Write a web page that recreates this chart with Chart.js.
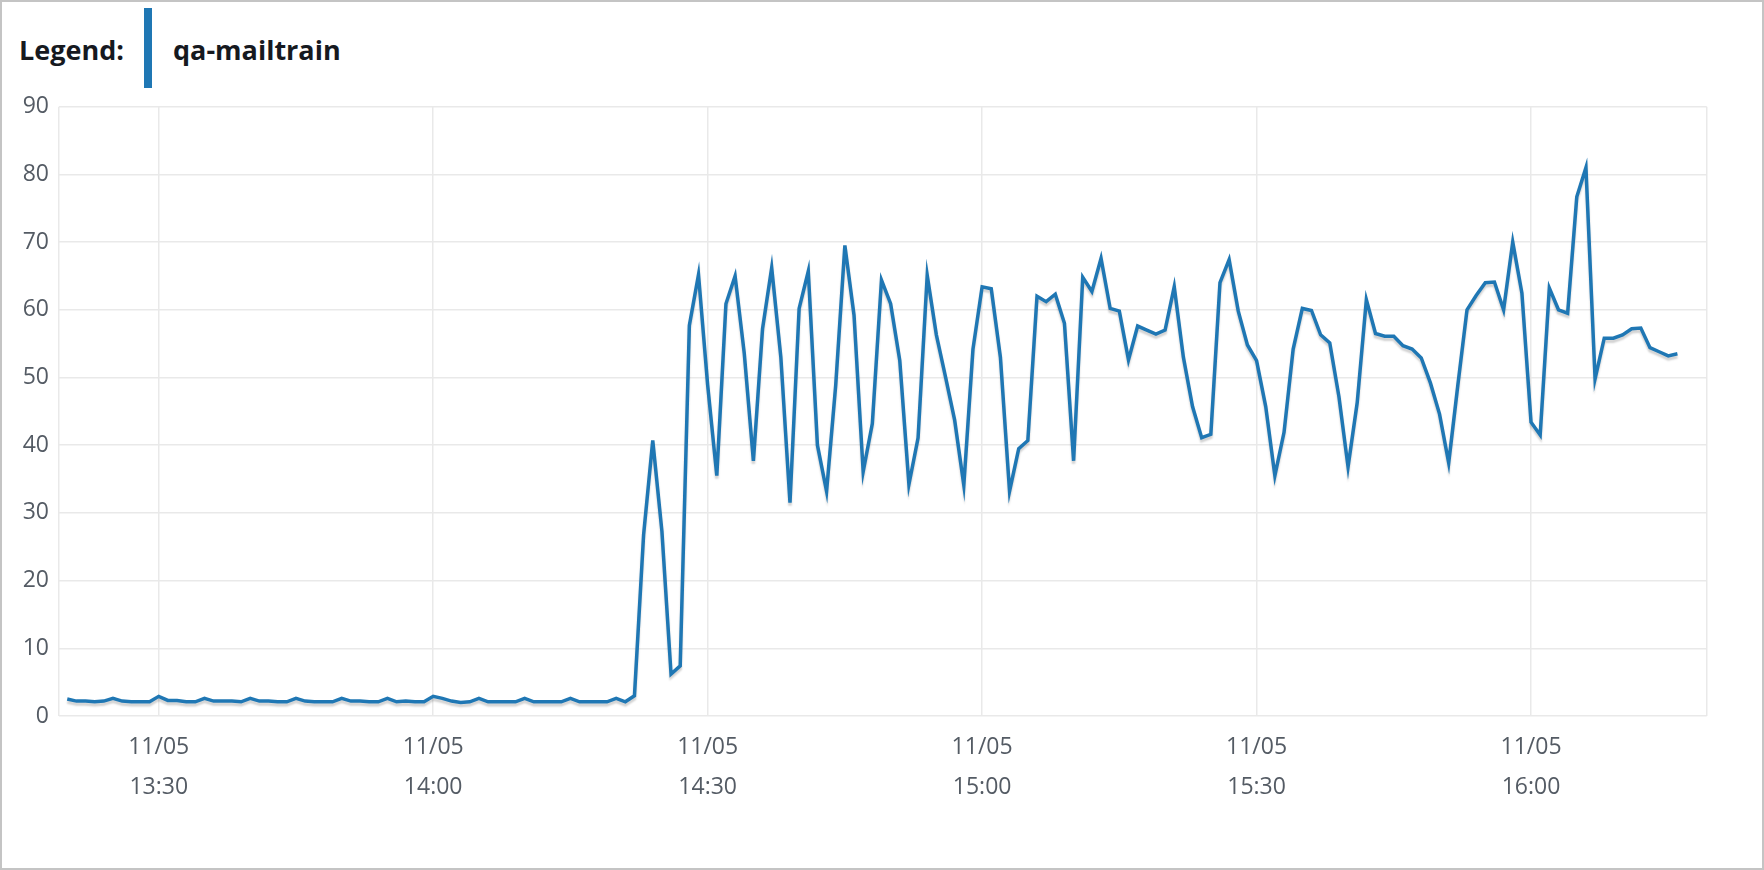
<!DOCTYPE html>
<html>
<head>
<meta charset="utf-8">
<script src="https://cdn.jsdelivr.net/npm/chart.js@4.4.1/dist/chart.umd.min.js"></script>
<style>
  html, body { margin: 0; padding: 0; background: #fff; }
  .frame {
    position: relative;
    width: 1764px;
    height: 870px;
    box-sizing: border-box;
    border: 2px solid #c4c4c4;
    overflow: hidden;
    font-family: "Open Sans", "Noto Sans", sans-serif;
  }
  .legend-title, .legend-name {
    position: absolute;
    top: 34px;
    font-size: 27px;
    line-height: 27px;
    font-weight: 700;
    color: #16191f;
  }
  .legend-title { left: 17px; }
  .legend-name { left: 171px; }
  .legend-swatch {
    position: absolute;
    left: 142px;
    top: 6px;
    width: 8px;
    height: 80px;
    background: #1f77b4;
  }
  #chart { position: absolute; left: -2px; top: -2px; }
</style>
</head>
<body>
<div class="frame">
  <span class="legend-title">Legend:</span>
  <div class="legend-swatch"></div>
  <span class="legend-name">qa-mailtrain</span>
  <canvas id="chart" width="1764" height="870"></canvas>
</div>
<script>
// Series: one sample per minute, starting 13:20
const seriesName = "qa-mailtrain";
const startTime = "13:20";
const values = [
  // 13:20 - 13:59
  2.5, 2.2, 2.2, 2.1, 2.2, 2.6, 2.2, 2.1, 2.1, 2.1,
  2.9, 2.3, 2.3, 2.1, 2.1, 2.6, 2.2, 2.2, 2.2, 2.1,
  2.6, 2.2, 2.2, 2.1, 2.1, 2.6, 2.2, 2.1, 2.1, 2.1,
  2.6, 2.2, 2.2, 2.1, 2.1, 2.6, 2.1, 2.2, 2.1, 2.1,
  // 14:00 - 14:29
  2.9, 2.6, 2.2, 2.0, 2.1, 2.6, 2.1, 2.1, 2.1, 2.1,
  2.6, 2.1, 2.1, 2.1, 2.1, 2.6, 2.1, 2.1, 2.1, 2.1,
  2.6, 2.1, 3.0, 26.8, 40.7, 27.3, 6.2, 7.4, 57.7, 65.2,
  // 14:30 - 14:59
  48.9, 35.5, 60.9, 65.0, 53.6, 37.7, 57.2, 66.2, 53.0, 31.5,
  60.2, 65.7, 40.0, 33.2, 48.9, 69.5, 59.2, 36.1, 43.2, 64.4,
  60.9, 52.5, 34.2, 41.1, 65.1, 56.3, 50.1, 43.7, 34.1, 54.2,
  // 15:00 - 15:29
  63.4, 63.1, 53.0, 33.2, 39.5, 40.7, 62.0, 61.2, 62.3, 58.0,
  37.7, 64.8, 62.7, 67.6, 60.2, 59.8, 52.6, 57.6, 57.0, 56.4,
  57.0, 63.4, 53.0, 45.7, 41.1, 41.6, 64.0, 67.4, 59.8, 54.8,
  // 15:30 - 15:59
  52.5, 45.7, 35.5, 41.9, 54.2, 60.2, 59.9, 56.3, 55.1, 47.2,
  36.8, 46.3, 61.5, 56.5, 56.1, 56.1, 54.7, 54.2, 52.9, 49.2,
  44.6, 37.4, 48.9, 60.0, 62.1, 64.0, 64.1, 60.0, 70.0, 62.5,
  // 16:00 - 16:16
  43.4, 41.5, 63.2, 60.0, 59.5, 76.7, 81.0, 49.8, 55.8, 55.8,
  56.3, 57.2, 57.3, 54.4, 53.8, 53.2, 53.5
];

// Axis labels
const tickDate = "11/05";
const tickTimes = ["13:30", "14:00", "14:30", "15:00", "15:30", "16:00"];
const yTicks = [0, 10, 20, 30, 40, 50, 60, 70, 80, 90];

function toMinutes(t) {
  const [h, m] = t.split(":").map(Number);
  return h * 60 + m;
}
function toTime(min) {
  const h = Math.floor(min / 60), m = Math.round(min % 60);
  return String(h).padStart(2, "0") + ":" + String(m).padStart(2, "0");
}

const start = toMinutes(startTime);
const times = values.map((_, i) => toTime(start + i));
const tickValues = tickTimes.map(toMinutes);

// visible window of the axis (about three hours)
const xMin = toMinutes("13:19") + 0.1;
const xMax = toMinutes("16:19") + 0.2;

// soft drop shadow under the line
const lineShadow = {
  id: "lineShadow",
  beforeDatasetDraw(chart) {
    const c = chart.ctx;
    c.save();
    c.shadowColor = "rgba(0, 0, 0, 0.18)";
    c.shadowOffsetY = 3;
    c.shadowBlur = 2;
  },
  afterDatasetDraw(chart) {
    chart.ctx.restore();
  }
};

const tickFont = { family: "'Open Sans', 'Noto Sans', sans-serif", size: 23, lineHeight: 1.74 };
const gridColor = "#e9e9e9";

new Chart(document.getElementById("chart"), {
  type: "line",
  data: {
    datasets: [{
      label: seriesName,
      data: values.map((v, i) => ({ x: toMinutes(times[i]), y: v })),
      borderColor: "#1f77b4",
      borderWidth: 3.5,
      pointRadius: 0,
      tension: 0,
      fill: false
    }]
  },
  options: {
    responsive: false,
    animation: false,
    layout: { padding: { left: 0, top: 106.7, right: 57.3, bottom: 0 } },
    plugins: {
      legend: { display: false },
      tooltip: { enabled: false }
    },
    scales: {
      x: {
        type: "linear",
        min: xMin,
        max: xMax,
        afterBuildTicks: axis => {
          axis.ticks = [xMin, ...tickValues, xMax].map(v => ({ value: v }));
        },
        afterFit: axis => { axis.height = 154; },
        ticks: {
          autoSkip: false,
          maxRotation: 0,
          padding: 11,
          color: "#545b64",
          font: tickFont,
          callback: v => {
            const i = tickValues.indexOf(v);
            return i >= 0 ? [tickDate, tickTimes[i]] : "";
          }
        },
        grid: { color: gridColor, lineWidth: 1.5, drawTicks: false },
        border: { display: false }
      },
      y: {
        min: 0,
        max: 90,
        afterBuildTicks: axis => {
          axis.ticks = yTicks.map(v => ({ value: v }));
        },
        afterFit: axis => { axis.width = 59; },
        ticks: {
          padding: 10,
          color: "#545b64",
          font: tickFont
        },
        grid: { color: gridColor, lineWidth: 1.5, drawTicks: false },
        border: { display: false }
      }
    }
  },
  plugins: [lineShadow]
});
</script>
</body>
</html>
